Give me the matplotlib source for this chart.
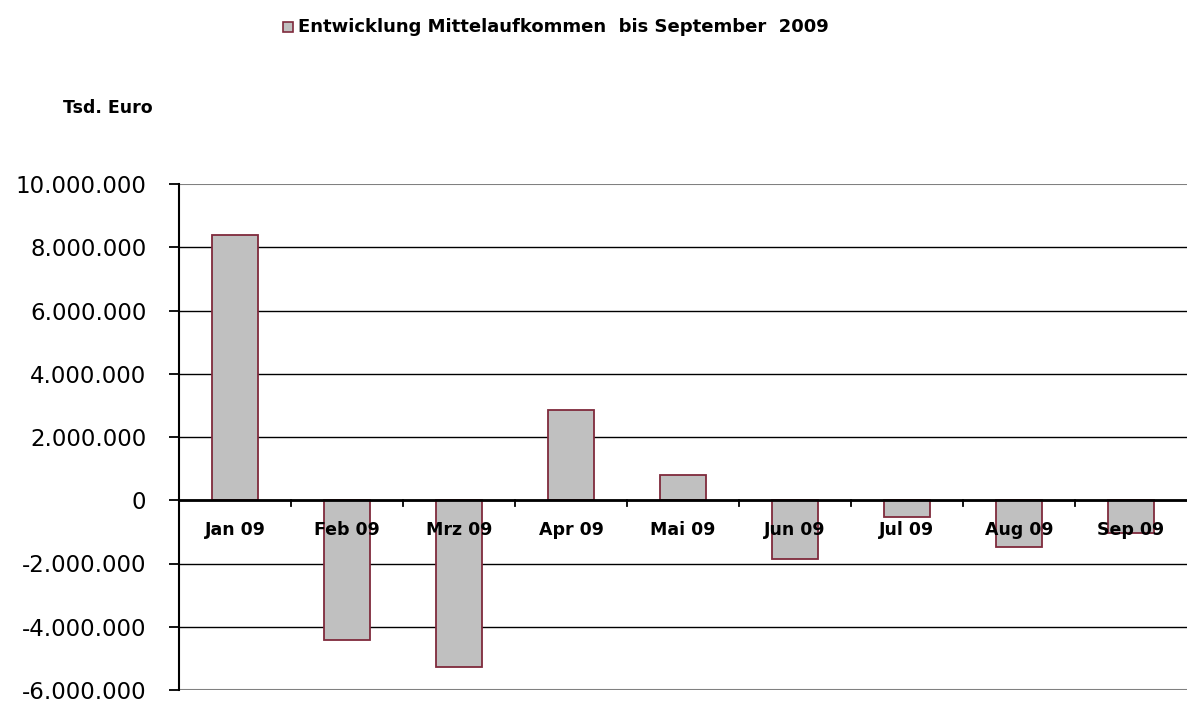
import matplotlib.pyplot as plt
import numpy as np

# Mittelaufkommen 2009 (Tsd. Euro)
monate = ['Jan 09', 'Feb 09', 'Mrz 09', 'Apr 09', 'Mai 09', 'Jun 09', 'Jul 09', 'Aug 09', 'Sep 09']
werte = [8390000, -4430000, -5280000, 2850000, 790000, -1870000, -540000, -1490000, -1040000]
yticks = [-6000000, -4000000, -2000000, 0, 2000000, 4000000, 6000000, 8000000, 10000000]

fig = plt.figure(figsize=(11.87, 7.02), dpi=100)
ax = fig.add_axes([179/1187, 12/702, 1 - 179/1187, 506/702])

x = np.arange(len(monate))
ax.bar(x, werte, width=0.41, color='#c0c0c0', edgecolor='#7f2a3c', linewidth=1.3, zorder=3)

ax.set_xlim(-0.5, len(monate) - 0.5)
ax.set_ylim(-6000000, 10000000)

# gitterlinien
for y in yticks[1:-1]:
    ax.axhline(y, color='black', linewidth=1, zorder=1)
ax.axhline(10000000, color='#808080', linewidth=1.5, zorder=1)
ax.axhline(-6000000, color='#808080', linewidth=1.5, zorder=1)
ax.axhline(0, color='black', linewidth=2, zorder=4)

for s in ['top', 'right', 'bottom']:
    ax.spines[s].set_visible(False)
ax.spines['left'].set_linewidth(1.5)
ax.spines['left'].set_zorder(5)

ax.set_yticks(yticks)
ax.set_yticklabels([f'{v:,}'.replace(',', '.') for v in yticks], fontsize=16.5)
ax.tick_params(axis='y', length=7.5, width=1.3, pad=16)

# x-achse: ticks an den grenzen, labels unter null
ax.set_xticks([])
for xi in x[:-1] + 0.5:
    ax.plot([xi, xi], [0, -180000], color='black', linewidth=1.3, zorder=4, clip_on=False)
for xi, m in zip(x, monate):
    ax.text(xi, -950000, m, ha='center', va='center', fontsize=12.5, fontweight='bold', zorder=6)

# legende und einheit
fig.patches.append(plt.Rectangle((283/1187, 1 - 32/702), 10/1187, 10/702, transform=fig.transFigure,
                                 facecolor='#c0c0c0', edgecolor='#7f2a3c', linewidth=1.2))
fig.text(298/1187, 1 - 27/702, 'Entwicklung Mittelaufkommen  bis September  2009',
         fontsize=13, fontweight='bold', va='center')
fig.text(63/1187, 1 - 108/702, 'Tsd. Euro', fontsize=12.5, fontweight='bold', va='center')

fig.savefig('out.png', dpi=100)
